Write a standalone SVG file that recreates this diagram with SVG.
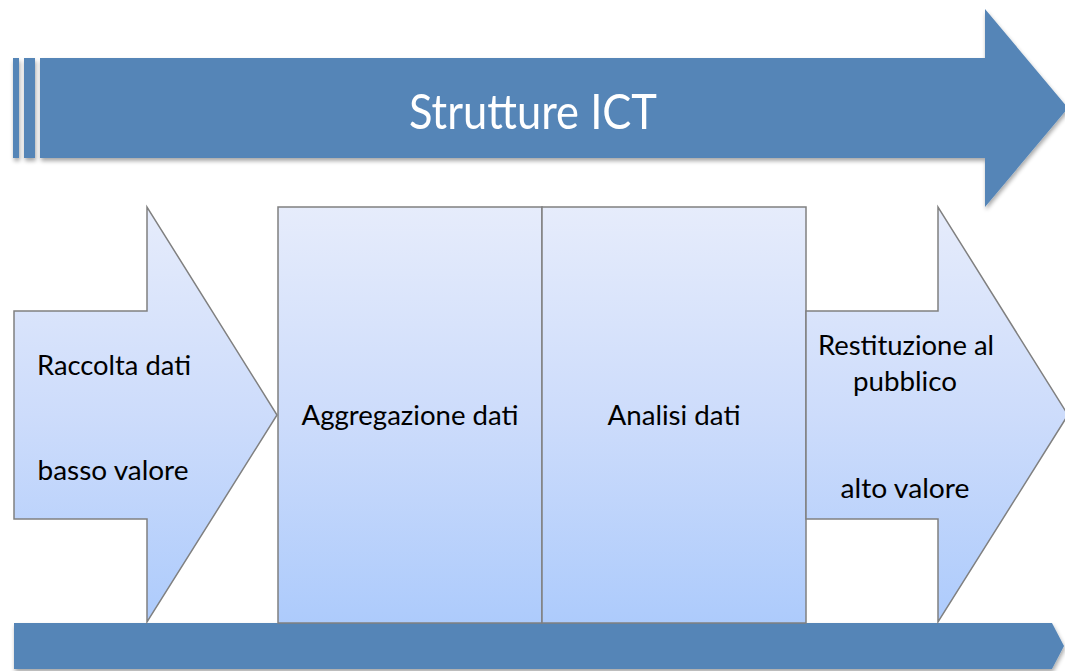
<svg xmlns="http://www.w3.org/2000/svg" width="1065" height="671" viewBox="0 0 1065 671">
  <defs>
    <linearGradient id="lg" gradientUnits="userSpaceOnUse" x1="0" y1="207" x2="0" y2="623">
      <stop offset="0" stop-color="#e6ecfb"/>
      <stop offset="0.5" stop-color="#cddcfb"/>
      <stop offset="1" stop-color="#adcbfc"/>
    </linearGradient>
    <filter id="sh" x="-5%" y="-10%" width="110%" height="130%">
      <feGaussianBlur in="SourceAlpha" stdDeviation="2"/>
      <feOffset dx="1" dy="3" result="b"/>
      <feComponentTransfer><feFuncA type="linear" slope="0.35"/></feComponentTransfer>
      <feMerge><feMergeNode/><feMergeNode in="SourceGraphic"/></feMerge>
    </filter>
  </defs>
  <style>
    .blue { fill: #5585b7; }
    .light { fill: url(#lg); stroke: #808080; stroke-width: 1.5; }
    .t { font-family: Lato, "Open Sans", "Liberation Sans", sans-serif; font-size: 27px; fill: #000; text-anchor: middle; }
    .h { font-family: Lato, "Open Sans", "Liberation Sans", sans-serif; font-size: 48px; fill: #ffffff; text-anchor: middle; }
  </style>
  <rect width="1065" height="671" fill="#ffffff"/>

  <g id="strutture-ict" filter="url(#sh)">
    <rect class="blue" x="13" y="58" width="6" height="100"/>
    <rect class="blue" x="24" y="58" width="11" height="100"/>
    <path class="blue" d="M40,58 H985 V9 L1068,108 L985,207 V158 H40 Z"/>
    <text class="h" x="533" y="129" textLength="248" lengthAdjust="spacingAndGlyphs">Strutture ICT</text>
  </g>

  <g id="base-bar" filter="url(#sh)">
    <path class="blue" d="M14,623 H1052 L1064,646 L1052,669 H14 Z"/>
  </g>

  <g id="raccolta-dati">
    <path class="light" d="M14,311 H147 V207 L277,415 L147,622 V519 H14 Z"/>
    <text class="t" x="114" y="375" textLength="154" lengthAdjust="spacingAndGlyphs">Raccolta dati</text>
    <text class="t" x="113" y="480" textLength="151" lengthAdjust="spacingAndGlyphs">basso valore</text>
  </g>

  <g id="aggregazione-dati">
    <rect class="light" x="278" y="207" width="264" height="416"/>
    <text class="t" x="410" y="425" textLength="217" lengthAdjust="spacingAndGlyphs">Aggregazione dati</text>
  </g>

  <g id="analisi-dati">
    <rect class="light" x="542" y="207" width="264" height="416"/>
    <text class="t" x="674" y="425" textLength="133" lengthAdjust="spacingAndGlyphs">Analisi dati</text>
  </g>

  <g id="restituzione">
    <path class="light" d="M806,311 H938 V207 L1068,415 L938,622 V519 H806 Z"/>
    <text class="t" x="906" y="355" textLength="176" lengthAdjust="spacingAndGlyphs">Restituzione al</text>
    <text class="t" x="905" y="391" textLength="104" lengthAdjust="spacingAndGlyphs">pubblico</text>
    <text class="t" x="905" y="498" textLength="129" lengthAdjust="spacingAndGlyphs">alto valore</text>
  </g>

  <g id="connectors"/>
</svg>
